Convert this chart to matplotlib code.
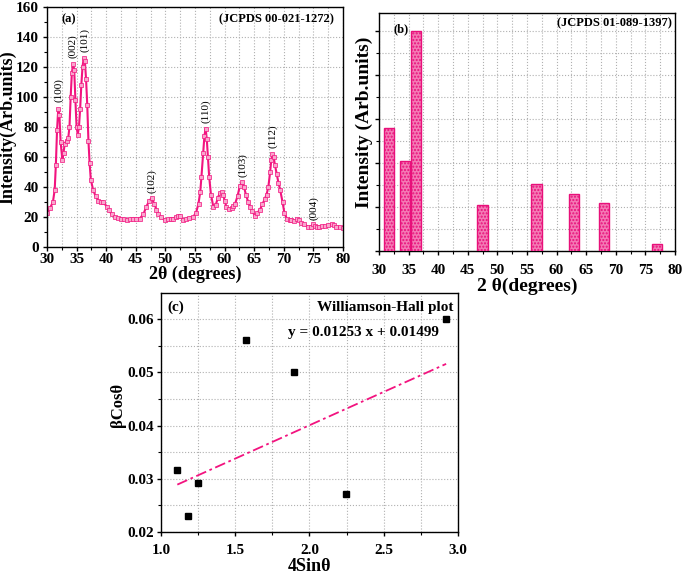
import matplotlib.pyplot as plt
from matplotlib.ticker import MultipleLocator

plt.rcParams['font.family'] = ['Liberation Serif', 'DejaVu Serif']
plt.rcParams['font.weight'] = 'bold'

# (a) XRD pattern
two_theta = [30.0, 30.5, 31.0, 31.3, 31.5, 31.7, 31.9, 32.1, 32.3, 32.6, 32.8, 33.0, 33.3, 33.6,
             33.8, 34.0, 34.2, 34.4, 34.6, 34.8, 35.0, 35.2, 35.4, 35.6, 35.8, 36.0, 36.2, 36.4,
             36.6, 36.8, 37.0, 37.2, 37.4, 37.8, 38.2, 38.7, 39.1, 39.5, 40.1, 40.5, 40.9, 41.5,
             42.0, 42.5, 43.0, 43.5, 44.0, 44.5, 45.0, 45.7, 46.3, 46.8, 47.3, 47.7, 48.1, 48.5,
             48.8, 49.3, 49.9, 50.5, 51.0, 51.3, 51.8, 52.2, 52.5, 53.0, 53.5, 54.0, 54.7, 55.2,
             55.6, 55.9, 56.1, 56.4, 56.6, 56.8, 57.0, 57.2, 57.4, 57.7, 58.1, 58.5, 58.9, 59.2,
             59.5, 59.8, 60.0, 60.3, 60.7, 61.2, 61.5, 61.8, 62.2, 62.6, 63.0, 63.3, 63.6, 64.0,
             64.3, 64.7, 65.1, 65.5, 66.0, 66.4, 66.8, 67.1, 67.4, 67.7, 67.9, 68.1, 68.3, 68.5,
             68.8, 69.1, 69.4, 69.8, 70.1, 70.5, 71.0, 71.3, 71.8, 72.2, 72.6, 73.0, 73.5, 74.1,
             74.6, 75.0, 75.3, 75.6, 76.0, 76.5, 76.95, 77.5, 78.1, 78.5, 78.9, 79.5, 80.0]
intensity = [22.4, 25.8, 30.0, 38.0, 55.0, 78.0, 92.0, 88.0, 70.0, 58.0, 63.0, 69.0, 71.0, 73.0,
             80.0, 100.0, 116.0, 122.0, 118.0, 98.0, 80.0, 75.0, 80.0, 92.0, 108.0, 120.0, 126.0, 124.0,
             112.0, 95.0, 71.0, 56.0, 45.0, 38.0, 34.0, 31.0, 30.0, 30.0, 27.0, 24.5, 22.0, 20.0,
             19.5, 19.0, 18.5, 18.0, 18.5, 19.0, 19.0, 19.0, 22.0, 27.0, 31.0, 32.5, 29.0, 25.0,
             22.0, 20.0, 18.0, 18.5, 19.0, 19.0, 20.0, 21.0, 21.0, 18.0, 19.0, 19.5, 20.0, 23.0,
             29.0, 37.0, 47.0, 63.0, 74.0, 79.0, 72.0, 60.0, 47.0, 35.0, 27.0, 28.0, 33.0, 36.0,
             36.5, 35.0, 31.0, 27.0, 25.5, 26.0, 27.5, 29.0, 34.0, 41.0, 43.5, 40.0, 35.0, 30.0,
             27.0, 24.0, 21.0, 22.5, 25.0, 28.5, 32.0, 35.0, 40.0, 50.0, 58.0, 62.0, 60.0, 55.0,
             49.0, 43.0, 38.0, 30.0, 23.0, 19.0, 18.0, 18.0, 17.5, 18.5, 18.0, 16.0, 15.0, 13.5,
             13.5, 15.3, 14.0, 13.0, 13.5, 14.0, 14.0, 14.5, 15.3, 14.5, 13.5, 13.5, 12.5]

peak_hkl = ['(100)', '(002)', '(101)', '(102)', '(110)', '(103)', '(112)', '(004)']
peak_x = [31.9, 34.4, 36.4, 47.7, 56.8, 63.0, 68.1, 75.0]
peak_label_y = [95, 124, 128, 34, 81, 45, 64, 16]

# (b) JCPDS reference lines
ref_x = [31.7, 34.4, 36.2, 47.5, 56.6, 62.9, 68.05, 77.0]
ref_i = [56, 41, 100, 21, 30.5, 26, 22, 3]

# (c) Williamson-Hall data
wh_x = [1.11, 1.18, 1.25, 1.575, 1.895, 2.245, 2.92]
wh_y = [0.0316, 0.0230, 0.0292, 0.0560, 0.0500, 0.0271, 0.0600]
slope = 0.01253
intercept = 0.01499

pink = '#f2137f'
grid_kw = dict(color='#b0b0b0', linestyle=':', linewidth=0.8)

fig = plt.figure(figsize=(6.85, 5.74), dpi=100)

# ---- panel (a)
ax1 = fig.add_axes([0.0686, 0.5697, 0.432, 0.418])
ax1.plot(two_theta, intensity, color=pink, lw=1.5, marker='s', ms=2.4,
         mfc='#f9a5cc', mec=pink, mew=0.5)
for lab, px, py in zip(peak_hkl, peak_x, peak_label_y):
    ax1.text(px, py + 2, lab, rotation=90, ha='center', va='bottom', fontsize=8, fontweight='normal')
ax1.set_xlim(30, 80)
ax1.set_ylim(0, 160)
ax1.xaxis.set_major_locator(MultipleLocator(5))
ax1.xaxis.set_minor_locator(MultipleLocator(2.5))
ax1.yaxis.set_major_locator(MultipleLocator(20))
ax1.yaxis.set_minor_locator(MultipleLocator(10))
ax1.grid(True, which='major', **grid_kw)
ax1.grid(True, which='minor', axis='x', **grid_kw)
ax1.set_xlabel('2θ (degrees)', fontsize=13, fontweight='bold')
ax1.set_ylabel('Intensity(Arb.units)', fontsize=13, fontweight='bold')
ax1.xaxis.set_label_coords(0.5, -0.08)
ax1.yaxis.set_label_coords(-0.102, 0.5)
ax1.tick_params(axis='x', which='major', pad=1)
ax1.tick_params(axis='y', which='major', pad=3)
ax1.text(0.05, 0.95, '(a)', transform=ax1.transAxes, fontsize=9, fontweight='bold', va='center')
ax1.text(0.97, 0.95, '(JCPDS 00-021-1272)', transform=ax1.transAxes, fontsize=9,
         fontweight='bold', ha='right', va='center')

# ---- panel (b)
ax2 = fig.add_axes([0.5533, 0.5627, 0.432, 0.4146])
ax2.bar(ref_x, ref_i, width=1.75, facecolor='#f47ab5', edgecolor='#e8107a',
        hatch='.....', linewidth=1.0, zorder=3)
ax2.set_xlim(30, 80)
ax2.set_ylim(0, 108)
ax2.xaxis.set_major_locator(MultipleLocator(5))
ax2.xaxis.set_minor_locator(MultipleLocator(2.5))
ax2.yaxis.set_major_locator(MultipleLocator(20))
ax2.yaxis.set_minor_locator(MultipleLocator(10))
ax2.set_yticklabels([])
ax2.grid(True, which='both', **grid_kw)
ax2.set_xlabel('2 θ(degrees)', fontsize=14, fontweight='bold')
ax2.set_ylabel('Intensity (Arb.units)', fontsize=14, fontweight='bold')
ax2.xaxis.set_label_coords(0.5, -0.11)
ax2.yaxis.set_label_coords(-0.02, 0.54)
ax2.tick_params(axis='x', which='major', pad=6)
ax2.text(0.05, 0.93, '(b)', transform=ax2.transAxes, fontsize=9, fontweight='bold', va='center')
ax2.text(0.99, 0.955, '(JCPDS 01-089-1397)', transform=ax2.transAxes, fontsize=9,
         fontweight='bold', ha='right', va='center')

# ---- panel (c)
ax3 = fig.add_axes([0.235, 0.0732, 0.4336, 0.4164])
ax3.plot(wh_x, wh_y, 's', color='black', ms=4.5, zorder=3)
fit_x = [min(wh_x), max(wh_x)]
fit_y = [slope * v + intercept for v in fit_x]
ax3.plot(fit_x, fit_y, color=pink, lw=1.3, linestyle=(0, (6, 2, 1.5, 2)))
ax3.set_xlim(1.0, 3.0)
ax3.set_ylim(0.02, 0.0649)
ax3.xaxis.set_major_locator(MultipleLocator(0.5))
ax3.xaxis.set_minor_locator(MultipleLocator(0.25))
ax3.yaxis.set_major_locator(MultipleLocator(0.01))
ax3.yaxis.set_minor_locator(MultipleLocator(0.005))
ax3.yaxis.set_major_formatter(plt.FormatStrFormatter('%.2f'))
ax3.xaxis.set_major_formatter(plt.FormatStrFormatter('%.1f'))
ax3.grid(True, which='both', **grid_kw)
ax3.set_xlabel('4Sinθ', fontsize=13, fontweight='bold')
ax3.set_ylabel('βCosθ', fontsize=12, fontweight='bold')
ax3.xaxis.set_label_coords(0.5, -0.11)
ax3.yaxis.set_label_coords(-0.118, 0.53)
ax3.tick_params(axis='x', which='major', pad=6)
ax3.tick_params(axis='y', which='major', pad=2)
ax3.text(0.02, 0.94, '(c)', transform=ax3.transAxes, fontsize=11, fontweight='bold', va='center')
ax3.text(0.985, 0.94, 'Williamson-Hall plot', transform=ax3.transAxes, fontsize=11,
         fontweight='bold', ha='right', va='center')
ax3.text(2.36, 0.0574, 'y = 0.01253 x + 0.01499', fontsize=11, fontweight='bold',
         ha='center', va='center')

for ax in (ax1, ax2, ax3):
    ax.tick_params(which='major', direction='out', length=3, width=1, labelsize=11)
    ax.tick_params(which='minor', direction='out', length=2, width=0.8)
    for lab in ax.get_xticklabels() + ax.get_yticklabels():
        lab.set_fontweight('bold')
    for s in ax.spines.values():
        s.set_linewidth(1.0)

fig.savefig('out.png', dpi=100)
